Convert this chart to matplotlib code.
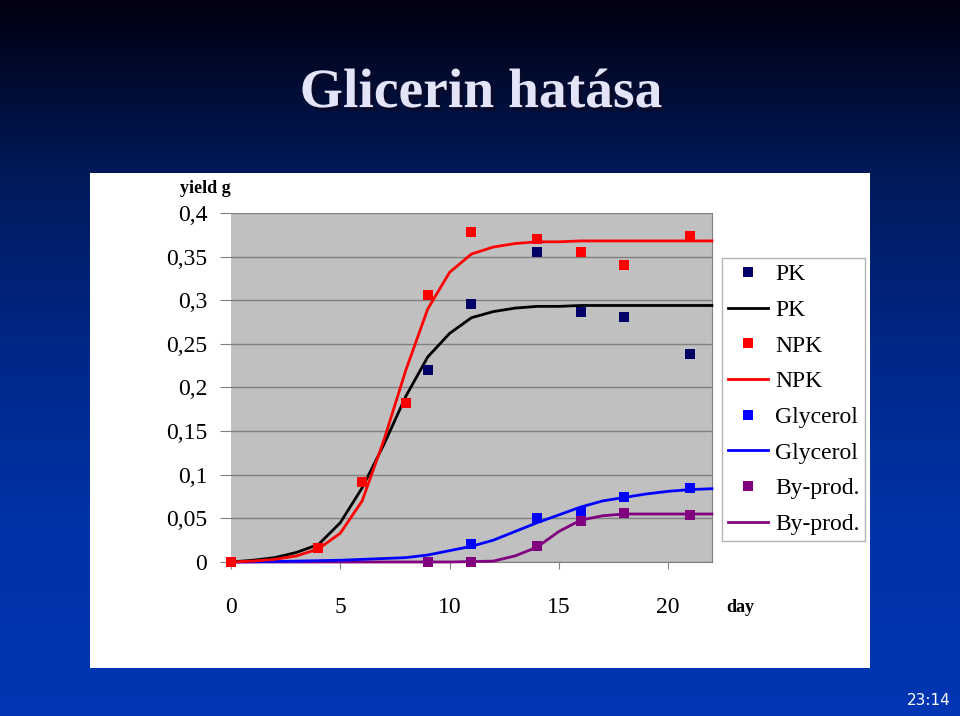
import matplotlib
matplotlib.use("Agg")
import matplotlib.pyplot as plt
import matplotlib.patheffects as pe
import numpy as np
from matplotlib.lines import Line2D
from matplotlib.colors import LinearSegmentedColormap

plt.rcParams['font.family'] = ['Liberation Serif', 'DejaVu Serif']

# measured points
pk_days = [0, 4, 6, 8, 9, 11, 14, 16, 18, 21]
pk_vals = [0, 0.016, 0.092, 0.182, 0.220, 0.296, 0.355, 0.287, 0.281, 0.238]
npk_days = [0, 4, 6, 8, 9, 11, 14, 16, 18, 21]
npk_vals = [0, 0.016, 0.092, 0.182, 0.306, 0.378, 0.370, 0.355, 0.340, 0.374]
gly_days = [11, 14, 16, 18, 21]
gly_vals = [0.021, 0.050, 0.057, 0.075, 0.085]
byp_days = [9, 11, 14, 16, 18, 21]
byp_vals = [0, 0, 0.018, 0.047, 0.056, 0.054]

# fitted curves, one value per day 0..22
fit_days = list(range(23))
pk_fit = [0, 0.002, 0.005, 0.011, 0.020, 0.045, 0.085, 0.135, 0.190, 0.235, 0.262,
          0.280, 0.287, 0.291, 0.293, 0.293, 0.294, 0.294, 0.294, 0.294, 0.294, 0.294, 0.294]
npk_fit = [0, 0.001, 0.003, 0.007, 0.015, 0.033, 0.070, 0.140, 0.220, 0.290, 0.332,
           0.353, 0.361, 0.365, 0.367, 0.367, 0.368, 0.368, 0.368, 0.368, 0.368, 0.368, 0.368]
gly_fit = [0, 0.0003, 0.0006, 0.001, 0.0015, 0.002, 0.003, 0.004, 0.005, 0.008, 0.013,
           0.018, 0.025, 0.035, 0.045, 0.054, 0.063, 0.070, 0.074, 0.078, 0.081, 0.083, 0.084]
byp_fit = [0, 0, 0, 0, 0, 0, 0, 0, 0, 0, 0, 0.0005, 0.001, 0.007, 0.017, 0.035,
           0.048, 0.053, 0.055, 0.055, 0.055, 0.055, 0.055]

fig = plt.figure(figsize=(9.6, 7.16), dpi=100)

# slide background gradient
bg = fig.add_axes([0, 0, 1, 1])
grad = np.linspace(0, 1, 256)[:, None]
cmap = LinearSegmentedColormap.from_list("slide", ["#00000f", "#001a5c", "#00288a", "#0032a8", "#0036b4"])
bg.imshow(grad, aspect='auto', cmap=cmap, extent=[0, 1, 0, 1], origin='upper')
bg.set_xlim(0, 1)
bg.set_ylim(0, 1)
bg.axis('off')

# white chart panel
panel = fig.add_axes([0.09375, 0.067, 0.8125, 0.691])
panel.set_facecolor('white')
panel.set_xticks([])
panel.set_yticks([])
for s in panel.spines.values():
    s.set_visible(False)

# title with shadow
fig.text(0.501, 0.870, "Glicerin hatása", ha='center', va='center', fontsize=40,
         fontweight='bold', color='#e4e4f8',
         path_effects=[pe.withSimplePatchShadow(offset=(2.5, -2.5), shadow_rgbFace='#0a0a28', alpha=1)])

ax = fig.add_axes([0.2406, 0.2151, 0.501, 0.4874])
ax.set_facecolor('#c0c0c0')
ax.set_xlim(0, 22)
ax.set_ylim(0, 0.4)
ax.set_yticks(np.arange(0, 0.41, 0.05))
ax.set_yticklabels(['0', '0,05', '0,1', '0,15', '0,2', '0,25', '0,3', '0,35', '0,4'])
ax.set_xticks([0, 5, 10, 15, 20])
ax.tick_params(axis='y', direction='out', length=8, color='#808080', labelsize=17, pad=9)
ax.tick_params(axis='x', direction='out', length=5, color='#808080', labelsize=17, pad=20)
ax.grid(axis='y', color='#808080', linewidth=1)
ax.set_axisbelow(True)
for s in ax.spines.values():
    s.set_color('#808080')
ax.spines['top'].set_visible(False)
ax.spines['left'].set_visible(False)

ax.plot(fit_days, byp_fit, color='#800080', lw=2, clip_on=False, zorder=3)
ax.plot(fit_days, gly_fit, color='#0000ff', lw=2, clip_on=False, zorder=3)
ax.plot(fit_days, pk_fit, color='black', lw=2, clip_on=False, zorder=3)
ax.plot(fit_days, npk_fit, color='#ff0000', lw=2, clip_on=False, zorder=3)

ms = 7
ax.plot(pk_days, pk_vals, 's', color='#000066', ms=ms, mew=0, clip_on=False, zorder=4)
ax.plot(npk_days, npk_vals, 's', color='#ff0000', ms=ms, mew=0, clip_on=False, zorder=5)
ax.plot(gly_days, gly_vals, 's', color='#0000ff', ms=ms, mew=0, clip_on=False, zorder=4)
ax.plot(byp_days, byp_vals, 's', color='#800080', ms=ms, mew=0, clip_on=False, zorder=4)

fig.text(0.214, 0.737, "yield g", ha='center', va='center', fontsize=13, fontweight='bold')
fig.text(0.771, 0.152, "day", ha='center', va='center', fontsize=13, fontweight='bold')

handles = [
    Line2D([], [], ls='none', marker='s', color='#000066', ms=ms, mew=0),
    Line2D([], [], color='black', lw=2),
    Line2D([], [], ls='none', marker='s', color='#ff0000', ms=ms, mew=0),
    Line2D([], [], color='#ff0000', lw=2),
    Line2D([], [], ls='none', marker='s', color='#0000ff', ms=ms, mew=0),
    Line2D([], [], color='#0000ff', lw=2),
    Line2D([], [], ls='none', marker='s', color='#800080', ms=ms, mew=0),
    Line2D([], [], color='#800080', lw=2),
]
labels = ['PK', 'PK', 'NPK', 'NPK', 'Glycerol', 'Glycerol', 'By-prod.', 'By-prod.']
leg = fig.legend(handles, labels, loc='upper left', bbox_to_anchor=(0.752, 0.640),
                 fontsize=17, frameon=True, fancybox=False, handlelength=1.7,
                 handletextpad=0.3, labelspacing=0.6, borderpad=0.25, borderaxespad=0)
leg.get_frame().set_edgecolor('#a0a0a0')
leg.get_frame().set_linewidth(1)

fig.text(0.990, 0.021, "23:14", ha='right', va='center', fontsize=11, color='white',
         family='DejaVu Sans')

fig.savefig("out.png", dpi=100)
